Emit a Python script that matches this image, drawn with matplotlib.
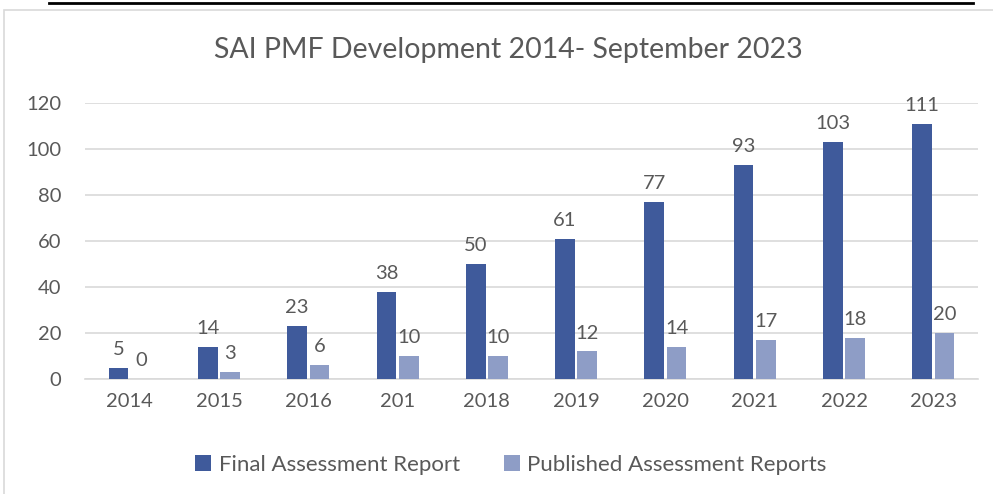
import numpy as np
import matplotlib.pyplot as plt
from matplotlib import patches

plt.rcParams['font.family'] = ['Lato', 'DejaVu Sans']

years = ['2014', '2015', '2016', '201', '2018', '2019', '2020', '2021', '2022', '2023']
final_reports = [5, 14, 23, 38, 50, 61, 77, 93, 103, 111]
published_reports = [0, 3, 6, 10, 10, 12, 14, 17, 18, 20]

dark = '#3F5A9B'
light = '#8E9DC6'
grey = '#595959'

fig = plt.figure(figsize=(9.93, 4.94), dpi=100)

# chart frame and cut-off caption underline
fig.add_artist(patches.Rectangle((4 / 993, -0.1), 1.1, 1 - 10 / 494 + 0.1, transform=fig.transFigure,
                                 fill=False, edgecolor='#D9D9D9', linewidth=1.2))
fig.add_artist(plt.Line2D([49 / 993, 973 / 993], [1 - 3 / 494] * 2, transform=fig.transFigure,
                          color='black', linewidth=2))

ax = fig.add_axes([85 / 993, 1 - 379 / 494, 893 / 993, 276 / 494])

x = np.arange(len(years))
w = 0.22
b1 = ax.bar(x - 0.125, final_reports, w, color=dark, label='Final Assessment Report', zorder=3)
b2 = ax.bar(x + 0.125, published_reports, w, color=light, label='Published Assessment Reports', zorder=3)

for bars, vals in ((b1, final_reports), (b2, published_reports)):
    for rect, v in zip(bars, vals):
        ax.annotate(str(v), (rect.get_x() + rect.get_width() / 2, v), xytext=(0, 7),
                    textcoords='offset points', ha='center', va='bottom', fontsize=14.5, color=grey)

ax.set_ylim(0, 120)
ax.set_xlim(-0.5, len(years) - 0.5)
ax.set_yticks(range(0, 121, 20))
ax.set_xticks(x, years)
ax.grid(axis='y', color='#D9D9D9', linewidth=1.2, zorder=0)
for s in ['top', 'right', 'left']:
    ax.spines[s].set_visible(False)
ax.spines['bottom'].set_color('#D9D9D9')
ax.spines['bottom'].set_linewidth(1.2)
ax.tick_params(axis='both', length=0, labelsize=14.5, labelcolor=grey)
ax.tick_params(axis='y', pad=17)
ax.tick_params(axis='x', pad=10)

fig.text(508 / 993, 1 - 50 / 494, 'SAI PMF Development 2014- September 2023', ha='center', va='center',
         fontsize=20.5, color=grey)

fig.legend(handles=[b1, b2], loc='center', bbox_to_anchor=(511 / 993, 1 - 465 / 494), ncol=2,
           frameon=False, fontsize=16, labelcolor=grey, handlelength=0.7, handleheight=0.7,
           columnspacing=2.0, handletextpad=0.35)

fig.savefig('out.png', dpi=100)
